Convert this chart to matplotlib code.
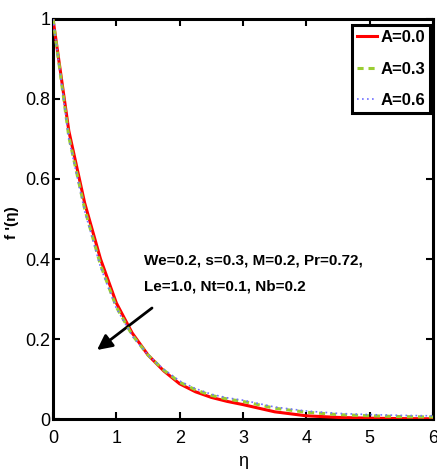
import matplotlib
matplotlib.use("Agg")
import matplotlib.pyplot as plt

eta = [0, 0.25, 0.5, 0.75, 1.0, 1.25, 1.5, 1.75, 2.0, 2.25, 2.5, 2.75, 3.0,
       3.5, 4.0, 4.5, 5.0, 5.5, 6.0]
f_a00 = [1.0, 0.72, 0.54, 0.40, 0.29, 0.215, 0.16, 0.12, 0.088, 0.068, 0.054,
         0.044, 0.036, 0.018, 0.008, 0.004, 0.002, 0.001, 0.0005]
f_a03 = [1.0, 0.705, 0.525, 0.385, 0.28, 0.21, 0.16, 0.122, 0.092, 0.073,
         0.059, 0.050, 0.044, 0.027, 0.017, 0.011, 0.008, 0.006, 0.005]
f_a06 = [1.0, 0.70, 0.52, 0.38, 0.277, 0.208, 0.16, 0.124, 0.095, 0.076,
         0.062, 0.053, 0.047, 0.030, 0.020, 0.014, 0.011, 0.009, 0.008]
labels = ["A=0.0", "A=0.3", "A=0.6"]
xticks = [0, 1, 2, 3, 4, 5, 6]
yticks = [0, 0.2, 0.4, 0.6, 0.8, 1]
yticklabels = ["0", "0.2", "0.4", "0.6", "0.8", "1"]

plt.rcParams["font.family"] = ["Liberation Sans", "DejaVu Sans"]

fig = plt.figure(figsize=(4.37, 4.69), dpi=100)
ax = fig.add_axes([0.1213, 0.1066, 0.8696, 0.8529])

ax.plot(eta, f_a00, color="#ff0000", lw=2.2, label=labels[0], zorder=3)
ax.plot(eta, f_a03, color="#9acd32", lw=2.2, ls=(0, (2.0, 1.6)), label=labels[1], zorder=4)
ax.plot(eta, f_a06, color="#7070ff", lw=1.2, ls=(0, (1, 2)), label=labels[2], zorder=5)

ax.set_xlim(0, 6)
ax.set_ylim(0, 1)
ax.set_xticks(xticks)
ax.set_xticklabels([str(t) for t in xticks])
ax.set_yticks(yticks)
ax.set_yticklabels(yticklabels)
ax.tick_params(direction="in", length=5, width=1.5, top=True, right=True,
               labelsize=13)
ax.tick_params(axis="x", pad=8)
ax.tick_params(axis="y", pad=2)
for s in ax.spines.values():
    s.set_linewidth(2.2)

ax.set_xlabel("η", fontsize=13, labelpad=4)
ax.set_ylabel("f '(η)", fontsize=11, fontweight="bold")
ax.yaxis.set_label_coords(-0.09, 0.49)

ax.annotate("", xy=(0.695, 0.1725), xytext=(1.563, 0.2775),
            arrowprops=dict(arrowstyle="-|>,head_length=0.9,head_width=0.45",
                            color="black", lw=2.0, shrinkA=0, shrinkB=0))
ax.text(1.43, 0.3975, "We=0.2, s=0.3, M=0.2, Pr=0.72,", fontsize=11,
        fontweight="bold", ha="left", va="center")
ax.text(1.43, 0.3325, "Le=1.0, Nt=0.1, Nb=0.2", fontsize=11,
        fontweight="bold", ha="left", va="center")

leg = ax.legend(loc="upper right", bbox_to_anchor=(0.992, 0.985),
                borderaxespad=0, fancybox=False, edgecolor="black",
                framealpha=1, handlelength=1.2, handletextpad=0.2,
                borderpad=0.3, labelspacing=1.0,
                prop={"weight": "bold", "size": 12})
leg.get_frame().set_linewidth(2.2)

fig.savefig("out.png", dpi=100)
